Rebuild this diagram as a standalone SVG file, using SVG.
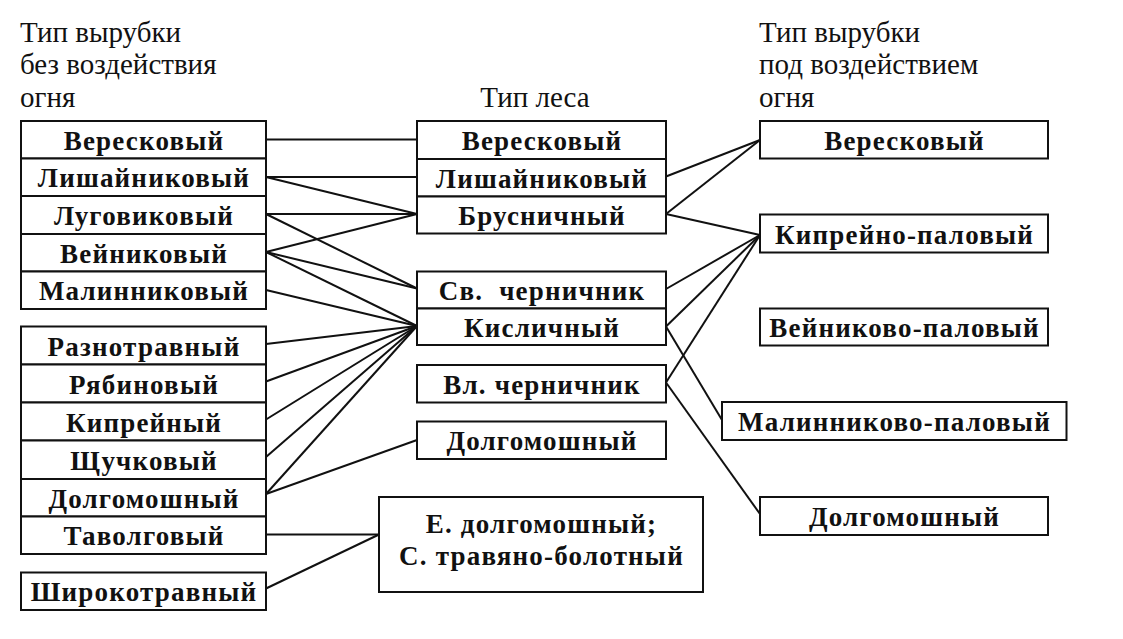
<svg xmlns="http://www.w3.org/2000/svg" width="1123" height="639" viewBox="0 0 1123 639">
<style>
.bx{fill:#fff;stroke:#111;stroke-width:2}
.t{font-family:"Liberation Serif","Times New Roman",serif;font-weight:bold;font-size:27px;letter-spacing:1.2px;fill:#111;text-anchor:middle}
.h{font-family:"Liberation Serif","Times New Roman",serif;font-size:29px;fill:#111}
.c line{stroke:#111;stroke-width:2}
</style>
<rect width="1123" height="639" fill="#fff"/>
<g id="headers">
<text class="h" x="20" y="42">Тип вырубки</text>
<text class="h" x="20" y="74">без воздействия</text>
<text class="h" x="20" y="107">огня</text>
<text class="h" x="535" y="107" text-anchor="middle">Тип леса</text>
<text class="h" x="759" y="42">Тип вырубки</text>
<text class="h" x="759" y="74">под воздействием</text>
<text class="h" x="759" y="107">огня</text>
</g>
<g class="c" id="connectors">
<line x1="266" y1="139.5" x2="417" y2="139.5"/>
<line x1="266" y1="177" x2="417" y2="177"/>
<line x1="266" y1="177" x2="417" y2="214"/>
<line x1="266" y1="214" x2="417" y2="214"/>
<line x1="266" y1="214" x2="417" y2="288.5"/>
<line x1="266" y1="252" x2="417" y2="214"/>
<line x1="266" y1="252" x2="417" y2="288.5"/>
<line x1="266" y1="252" x2="417" y2="326"/>
<line x1="266" y1="290" x2="417" y2="326"/>
<line x1="266" y1="344" x2="417" y2="326"/>
<line x1="266" y1="381.5" x2="417" y2="326"/>
<line x1="266" y1="419.5" x2="417" y2="326"/>
<line x1="266" y1="457" x2="417" y2="326"/>
<line x1="266" y1="494" x2="417" y2="326"/>
<line x1="266" y1="494" x2="417" y2="440"/>
<line x1="266" y1="534.5" x2="379" y2="534.5"/>
<line x1="266" y1="588.5" x2="379" y2="534.5"/>
<line x1="666" y1="176.5" x2="760" y2="140"/>
<line x1="666" y1="214" x2="760" y2="140"/>
<line x1="666" y1="214" x2="760" y2="235"/>
<line x1="666" y1="289" x2="760" y2="235"/>
<line x1="666" y1="326.5" x2="760" y2="235"/>
<line x1="666" y1="382.5" x2="760" y2="235"/>
<line x1="666" y1="326.5" x2="722" y2="420"/>
<line x1="666" y1="382.5" x2="760" y2="514"/>
</g>
<g id="left-veresk"><rect class="bx" x="21" y="121" width="245" height="37.5"/><text class="t" x="144" y="150">Вересковый</text></g>
<g id="left-lishain"><rect class="bx" x="21" y="158.5" width="245" height="37.5"/><text class="t" x="144" y="187">Лишайниковый</text></g>
<g id="left-lugov"><rect class="bx" x="21" y="196" width="245" height="38"/><text class="t" x="144" y="225">Луговиковый</text></g>
<g id="left-vein"><rect class="bx" x="21" y="234" width="245" height="37.5"/><text class="t" x="144" y="262.5">Вейниковый</text></g>
<g id="left-malin"><rect class="bx" x="21" y="271.5" width="245" height="37.5"/><text class="t" x="144" y="300">Малинниковый</text></g>
<g id="left-raznotr"><rect class="bx" x="21" y="326.5" width="245" height="38"/><text class="t" x="144" y="355.5">Разнотравный</text></g>
<g id="left-ryabin"><rect class="bx" x="21" y="364.5" width="245" height="38"/><text class="t" x="144" y="393.5">Рябиновый</text></g>
<g id="left-kiprein"><rect class="bx" x="21" y="402.5" width="245" height="38"/><text class="t" x="144" y="431.5">Кипрейный</text></g>
<g id="left-shchuch"><rect class="bx" x="21" y="440.5" width="245" height="38.5"/><text class="t" x="144" y="470">Щучковый</text></g>
<g id="left-dolgom"><rect class="bx" x="21" y="479" width="245" height="37.5"/><text class="t" x="144" y="507.5">Долгомошный</text></g>
<g id="left-tavolg"><rect class="bx" x="21" y="516.5" width="245" height="37.5"/><text class="t" x="144" y="545">Таволговый</text></g>
<g id="left-shirok"><rect class="bx" x="21" y="572.5" width="245" height="37.5"/><text class="t" x="144" y="601">Широкотравный</text></g>
<g id="mid-veresk"><rect class="bx" x="417" y="121" width="249" height="38"/><text class="t" x="542" y="150">Вересковый</text></g>
<g id="mid-lishain"><rect class="bx" x="417" y="159" width="249" height="37.5"/><text class="t" x="542" y="188">Лишайниковый</text></g>
<g id="mid-brusn"><rect class="bx" x="417" y="196.5" width="249" height="37"/><text class="t" x="542" y="225">Брусничный</text></g>
<g id="mid-svcher"><rect class="bx" x="417" y="271.5" width="249" height="37"/><text class="t" x="542" y="300">Св.&#160; черничник</text></g>
<g id="mid-kislich"><rect class="bx" x="417" y="308.5" width="249" height="36.5"/><text class="t" x="542" y="337">Кисличный</text></g>
<g id="mid-vlcher"><rect class="bx" x="417" y="365" width="249" height="37.5"/><text class="t" x="542" y="393.5">Вл. черничник</text></g>
<g id="mid-dolgom"><rect class="bx" x="417" y="421.5" width="249" height="37.5"/><text class="t" x="542" y="450">Долгомошный</text></g>
<g id="mid-edolg"><rect class="bx" x="379" y="497" width="324" height="95"/><text class="t" x="541.5" y="533">Е. долгомошный;</text><text class="t" x="541.5" y="565">С. травяно-болотный</text></g>
<g id="right-veresk"><rect class="bx" x="760" y="121" width="288" height="37.5"/><text class="t" x="904.5" y="150">Вересковый</text></g>
<g id="right-kiprein"><rect class="bx" x="760" y="214.5" width="288" height="38"/><text class="t" x="904.5" y="243.5">Кипрейно-паловый</text></g>
<g id="right-vein"><rect class="bx" x="760" y="308.5" width="288" height="37"/><text class="t" x="904.5" y="337">Вейниково-паловый</text></g>
<g id="right-malin"><rect class="bx" x="722" y="402" width="344.5" height="38"/><text class="t" x="894.5" y="431">Малинниково-паловый</text></g>
<g id="right-dolgom"><rect class="bx" x="760" y="497" width="288" height="38"/><text class="t" x="904.5" y="526">Долгомошный</text></g>
</svg>
